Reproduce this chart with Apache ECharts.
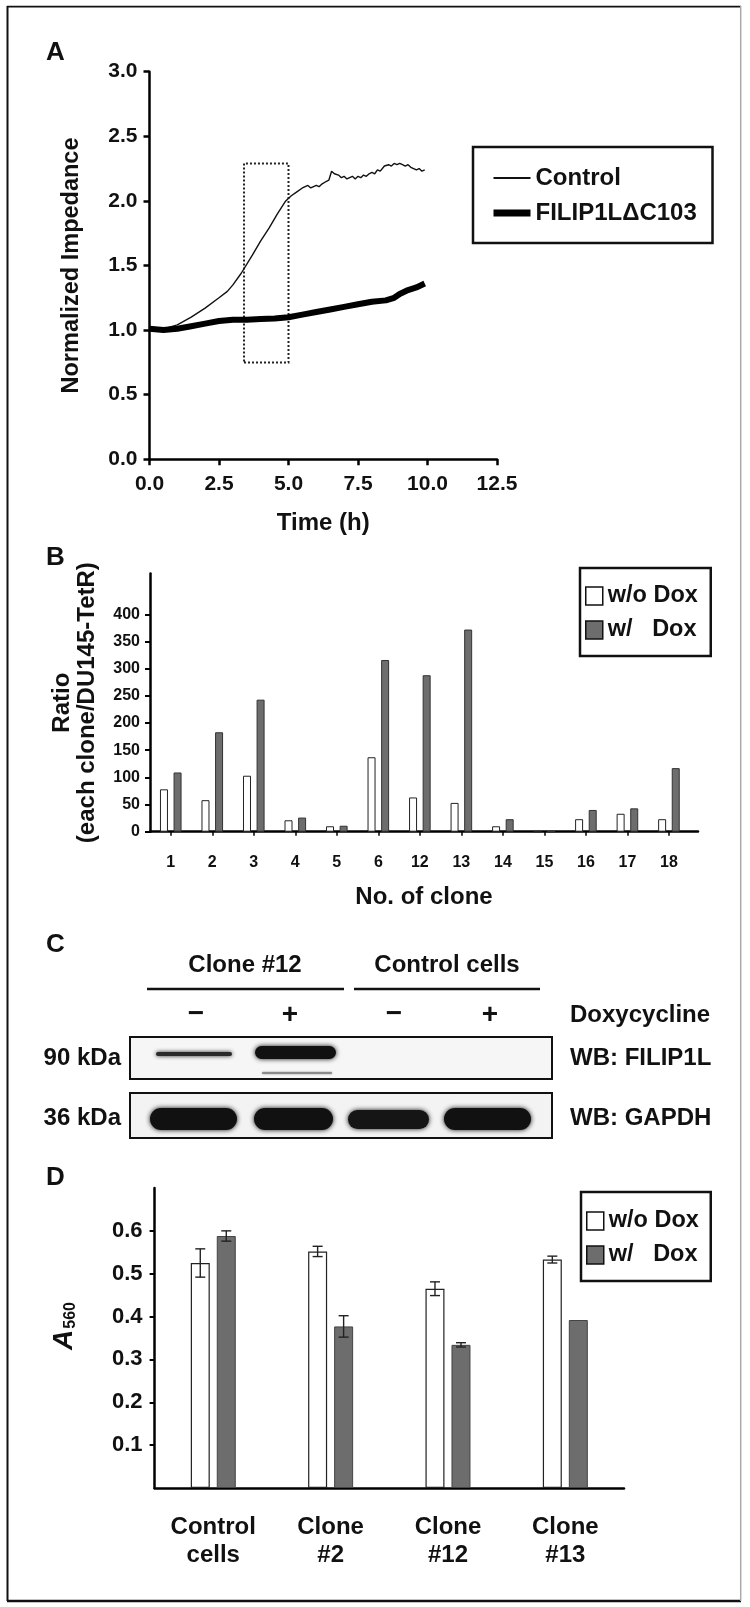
<!DOCTYPE html>
<html><head><meta charset="utf-8">
<script src="https://cdn.jsdelivr.net/npm/echarts@6/dist/echarts.min.js"></script>
<style>html,body{margin:0;padding:0;background:#fff}#c{width:750px;height:1607px}</style>
</head><body><div id="c"></div>
<script>
// ---------- Panel A data ----------
const timeCtrlA = [0.0,0.5,1.0,1.5,2.0,2.5,2.8,3.0,3.3,3.7,4.0,4.3,4.6,4.9,5.1,5.3,5.5,5.7,5.8,6.0,6.1,6.2,6.35,6.45,6.55,6.65,6.8,6.9,7.0,7.1,7.2,7.3,7.4,7.5,7.6,7.7,7.8,7.9,8.0,8.1,8.2,8.3,8.45,8.6,8.7,8.8,8.9,9.0,9.1,9.2,9.3,9.4,9.5,9.6,9.7,9.8,9.9];
const controlA  = [1.00,1.01,1.04,1.10,1.17,1.25,1.30,1.35,1.44,1.58,1.69,1.79,1.90,2.00,2.04,2.07,2.10,2.12,2.10,2.12,2.11,2.13,2.15,2.16,2.23,2.21,2.20,2.18,2.19,2.17,2.18,2.19,2.17,2.19,2.18,2.20,2.19,2.21,2.22,2.21,2.24,2.23,2.27,2.28,2.27,2.29,2.28,2.29,2.28,2.27,2.28,2.26,2.25,2.24,2.25,2.23,2.24];
const timeFilipA = [0.0,0.5,1.0,1.5,2.0,2.5,3.0,3.5,4.0,4.5,5.0,5.5,6.0,6.5,7.0,7.5,8.0,8.5,8.8,9.0,9.3,9.6,9.9];
const filipA     = [1.01,1.00,1.01,1.03,1.05,1.07,1.08,1.08,1.085,1.09,1.10,1.12,1.14,1.16,1.18,1.20,1.22,1.23,1.25,1.28,1.31,1.33,1.36];
const boxA = [3.4, 5.0, 0.75, 2.29]; // time from, time to, value from, value to

// ---------- Panel B data ----------
const clonesB = ['1','2','3','4','5','6','12','13','14','15','16','17','18'];
const woDoxB  = [78,58,103,21,10,137,63,53,10,0,23,33,23];
const wDoxB   = [109,183,243,26,11,316,288,372,23,0,40,43,117];
const ticksB  = [0,50,100,150,200,250,300,350,400];

// ---------- Panel D data ----------
const groupsD   = ['Control\ncells','Clone\n#2','Clone\n#12','Clone\n#13'];
const woDoxD    = [0.525,0.552,0.465,0.533];
const woDoxErrD = [0.033,0.012,0.016,0.008];
const wDoxD     = [0.588,0.377,0.334,0.392];
const wDoxErrD  = [0.012,0.025,0.005,0];
const ticksD    = [0.1,0.2,0.3,0.4,0.5,0.6];

// ---------- style constants ----------
const FONT = '"Liberation Sans", Arial, Helvetica, sans-serif';
const INK = '#111';
const GRAY = '#6d6d6d';
const BAR_D = 19, GAP_D = 7;

const chart = echarts.init(document.getElementById('c'), null, {renderer:'canvas'});

const axLine = {show:true, onZero:false, lineStyle:{color:'#000', width:2.5}};
const lbl = (fs, m, fmt) => ({fontSize:fs, fontWeight:'bold', color:INK, margin:m, fontFamily:FONT, formatter:fmt});

function errSeries(vals, errs, sign){
  return {
    type:'custom', xAxisIndex:2, yAxisIndex:2, z:5, silent:true,
    data: vals.map((v,i)=>[i, v, errs[i]]),
    renderItem(p, api){
      const e = api.value(2);
      if(!e) return null;
      const top = api.coord([api.value(0), api.value(1)+e]);
      const bot = api.coord([api.value(0), api.value(1)-e]);
      const x = top[0] + sign*(BAR_D+GAP_D)/2;
      const cw = 5, st = {stroke:'#222', lineWidth:1.4};
      return {type:'group', children:[
        {type:'line', shape:{x1:x,y1:top[1],x2:x,y2:bot[1]}, style:st},
        {type:'line', shape:{x1:x-cw,y1:top[1],x2:x+cw,y2:top[1]}, style:st},
        {type:'line', shape:{x1:x-cw,y1:bot[1],x2:x+cw,y2:bot[1]}, style:st}
      ]};
    }
  };
}

function txt(text, x, y, size, align, extra){
  return Object.assign({type:'text', z:10, style:{text, x, y, fill:INK, font:'bold '+size+'px '+FONT, textAlign:align||'left', textVerticalAlign:'middle'}}, extra||{});
}
function band(x, y, w, h, fill, blur){
  return {type:'rect', z:11, shape:{x, y, width:w, height:h, r:h/2}, style:{fill, shadowBlur:blur, shadowColor:fill}};
}

const option = {
  animation:false,
  backgroundColor:'#fff',
  textStyle:{fontFamily:FONT},
  grid:[
    {left:149.5, top:71.7, width:347.5, height:387.6},
    {left:150, top:573.6, width:548, height:258.1},
    {left:154.6, top:1188, width:469.4, height:300}
  ],
  xAxis:[
    {type:'value', gridIndex:0, min:0, max:12.5, interval:2.5,
     axisLine:axLine, axisTick:{show:true, length:6, lineStyle:{width:2.5, color:'#000'}},
     axisLabel:lbl(21, 14, v=>v.toFixed(1)), splitLine:{show:false},
     name:'Time (h)', nameLocation:'middle', nameGap:52,
     nameTextStyle:{fontSize:24, fontWeight:'bold', color:INK}},
    {type:'value', gridIndex:1, min:0, max:13.2,
     axisLine:axLine,
     axisTick:{show:true, length:4, lineStyle:{width:1.5, color:'#000'}, customValues:clonesB.map((c,i)=>i+0.5)},
     axisLabel:Object.assign(lbl(16, 23, v=>clonesB[Math.round(v-0.5)]), {customValues:clonesB.map((c,i)=>i+0.5)}),
     splitLine:{show:false},
     name:'No. of clone', nameLocation:'middle', nameGap:54,
     nameTextStyle:{fontSize:24, fontWeight:'bold', color:INK}},
    {type:'category', gridIndex:2, data:groupsD, boundaryGap:true,
     axisLine:axLine, axisTick:{show:false},
     axisLabel:Object.assign(lbl(24, 25), {lineHeight:28, interval:0}),
     splitLine:{show:false}}
  ],
  yAxis:[
    {type:'value', gridIndex:0, min:0, max:3, interval:0.5,
     axisLine:axLine, axisTick:{show:true, length:6, lineStyle:{width:2.5, color:'#000'}},
     axisLabel:lbl(21, 12, v=>v.toFixed(1)), splitLine:{show:false},
     name:'Normalized Impedance', nameLocation:'middle', nameGap:66, nameRotate:90,
     nameTextStyle:{fontSize:23.5, fontWeight:'bold', color:INK}},
    {type:'value', gridIndex:1, min:0, max:475,
     axisLine:axLine,
     axisTick:{show:true, length:5, lineStyle:{width:2, color:'#000'}, customValues:ticksB},
     axisLabel:Object.assign(lbl(16, 10, v=>String(v)), {customValues:ticksB}),
     splitLine:{show:false},
     name:'Ratio\n(each clone/DU145-TetR)', nameLocation:'middle', nameGap:50, nameRotate:90,
     nameTextStyle:{fontSize:24, fontWeight:'bold', color:INK, lineHeight:25}},
    {type:'value', gridIndex:2, min:0, max:0.7,
     axisLine:axLine,
     axisTick:{show:true, length:5, lineStyle:{width:2, color:'#000'}, customValues:ticksD},
     axisLabel:Object.assign(lbl(22, 12, v=>v.toFixed(1)), {customValues:ticksD}),
     splitLine:{show:false},
     name:'{a|A}{s|560}', nameLocation:'middle', nameGap:76, nameRotate:90,
     nameTextStyle:{color:INK, padding:[0,0,0,24], rich:{
       a:{fontSize:28, fontStyle:'italic', fontWeight:'bold', color:INK, fontFamily:FONT},
       s:{fontSize:16, fontWeight:'bold', color:INK, fontFamily:FONT, verticalAlign:'bottom', padding:[0,0,0,1]}
     }}}
  ],
  legend:[
    {data:[{name:'Control', lineStyle:{width:2}, itemStyle:{opacity:0}},
           {name:'FILIP1L\u0394C103', lineStyle:{width:7}, itemStyle:{opacity:0}}],
     orient:'vertical', left:473, top:147, padding:[19,11,18,17], itemGap:11,
     itemWidth:37, itemHeight:14, selectedMode:false,
     borderColor:'#111', borderWidth:2.5, borderRadius:0,
     textStyle:{fontSize:24, fontWeight:'bold', color:INK, lineHeight:24, width:166}},
    {data:[{name:'w/o Dox', icon:'rect', itemStyle:{color:'#fff', borderColor:'#111', borderWidth:1.5}},
           {name:'w/   Dox', icon:'rect', itemStyle:{color:GRAY, borderColor:'#111', borderWidth:1.5}}],
     orient:'vertical', left:580, top:568, padding:[16,6,14,5], itemGap:10,
     itemWidth:17, itemHeight:18, selectedMode:false,
     borderColor:'#111', borderWidth:2.5,
     textStyle:{fontSize:23.5, fontWeight:'bold', color:INK, lineHeight:24, width:97}},
    {data:[{name:'w/o Dox', icon:'rect', itemStyle:{color:'#fff', borderColor:'#111', borderWidth:1.5}},
           {name:'w/   Dox', icon:'rect', itemStyle:{color:GRAY, borderColor:'#111', borderWidth:1.5}}],
     orient:'vertical', left:581, top:1192, padding:[17,6,14,5], itemGap:10,
     itemWidth:17, itemHeight:18, selectedMode:false,
     borderColor:'#111', borderWidth:2.5,
     textStyle:{fontSize:23.5, fontWeight:'bold', color:INK, lineHeight:24, width:96}}
  ],
  series:[
    {name:'Control', type:'line', xAxisIndex:0, yAxisIndex:0, symbol:'none',
     data:timeCtrlA.map((t,i)=>[t, controlA[i]]),
     lineStyle:{color:INK, width:1.4}, itemStyle:{color:INK}, z:3,
     markArea:{silent:true, itemStyle:{color:'rgba(0,0,0,0)', borderColor:'#222', borderWidth:2, borderType:[2,2]},
       data:[[{coord:[boxA[0], boxA[2]]},{coord:[boxA[1], boxA[3]]}]]}},
    {name:'FILIP1L\u0394C103', type:'line', xAxisIndex:0, yAxisIndex:0, symbol:'none',
     data:timeFilipA.map((t,i)=>[t, filipA[i]]),
     lineStyle:{color:'#000', width:6}, itemStyle:{color:'#000'}, z:4},
    {name:'w/o Dox', type:'bar', xAxisIndex:1, yAxisIndex:1, barWidth:8, barGap:'70%',
     data:woDoxB.map((v,i)=>[i+0.5, v]),
     itemStyle:{color:'#fff', borderColor:'#222', borderWidth:1}},
    {name:'w/   Dox', type:'bar', xAxisIndex:1, yAxisIndex:1, barWidth:8, barGap:'70%',
     data:wDoxB.map((v,i)=>[i+0.5, v]),
     itemStyle:{color:GRAY, borderColor:'#333', borderWidth:1}},
    {name:'w/o Dox', type:'bar', xAxisIndex:2, yAxisIndex:2, barWidth:BAR_D, barGap:(GAP_D/BAR_D*100)+'%',
     data:woDoxD,
     itemStyle:{color:'#fff', borderColor:'#222', borderWidth:1.2}},
    {name:'w/   Dox', type:'bar', xAxisIndex:2, yAxisIndex:2, barWidth:BAR_D, barGap:(GAP_D/BAR_D*100)+'%',
     data:wDoxD,
     itemStyle:{color:GRAY, borderColor:'#444', borderWidth:1}},
    errSeries(woDoxD, woDoxErrD, -1),
    errSeries(wDoxD, wDoxErrD, 1)
  ],
  graphic:[
    // outer frame
    {type:'line', z:20, shape:{x1:7, y1:6.7, x2:741, y2:6.7}, style:{stroke:'#111', lineWidth:1.8}},
    {type:'line', z:20, shape:{x1:7.5, y1:6, x2:7.5, y2:1601}, style:{stroke:'#111', lineWidth:2}},
    {type:'line', z:20, shape:{x1:7, y1:1601, x2:741, y2:1601}, style:{stroke:'#111', lineWidth:2.5}},
    {type:'line', z:20, shape:{x1:740.7, y1:6, x2:740.7, y2:1601}, style:{stroke:'#aaa', lineWidth:1.5}},
    // panel letters
    txt('A', 46, 53, 26), txt('B', 46, 558, 26), txt('C', 46, 945, 26), txt('D', 46, 1178, 26),
    // panel C labels
    txt('Clone #12', 245, 965, 24, 'center'),
    txt('Control cells', 447, 965, 24, 'center'),
    {type:'line', z:10, shape:{x1:147, y1:989, x2:344, y2:989}, style:{stroke:'#111', lineWidth:2.5}},
    {type:'line', z:10, shape:{x1:354, y1:989, x2:540, y2:989}, style:{stroke:'#111', lineWidth:2.5}},
    txt('\u2212', 196, 1014, 28, 'center'), txt('+', 290, 1015, 28, 'center'),
    txt('\u2212', 394, 1014, 28, 'center'), txt('+', 490, 1015, 28, 'center'),
    txt('Doxycycline', 570, 1015, 24),
    txt('90 kDa', 121, 1058, 24, 'right'), txt('WB: FILIP1L', 570, 1058, 24),
    txt('36 kDa', 121, 1118, 24, 'right'), txt('WB: GAPDH', 570, 1118, 24),
    // blots
    {type:'rect', z:9, shape:{x:130, y:1037, width:422, height:42}, style:{fill:'#f6f6f6', stroke:'#111', lineWidth:2}},
    {type:'rect', z:9, shape:{x:130, y:1093, width:422, height:45}, style:{fill:'#f3f3f3', stroke:'#111', lineWidth:2}},
    band(156, 1052, 76, 4, '#2a2a2a', 4),
    band(255, 1046, 81, 13, '#111', 5),
    band(262, 1072, 70, 2, '#8a8a8a', 2),
    band(150, 1108, 87, 22, '#111', 5),
    band(254, 1108, 79, 22, '#111', 5),
    band(348, 1110, 81, 19, '#151515', 5),
    band(444, 1108, 87, 22, '#111', 5)
  ]
};
chart.setOption(option);
</script>
</body></html>
